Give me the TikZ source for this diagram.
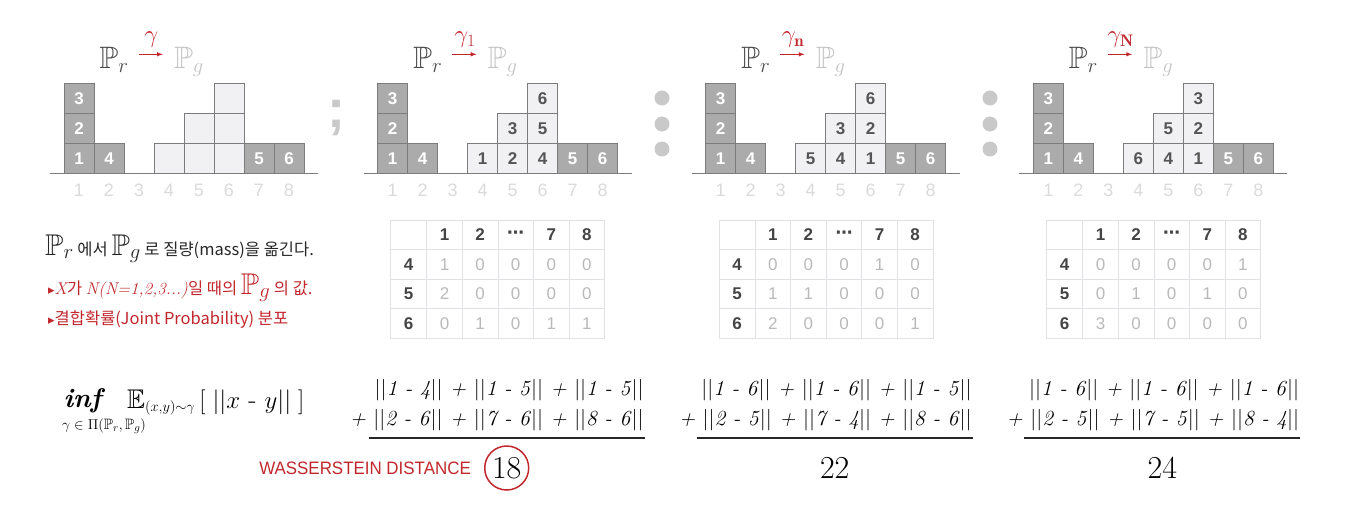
\documentclass[tikz,border=0pt]{standalone}
\usepackage{amsmath}
\usepackage{amssymb}
\usepackage{fontspec}
\setsansfont{Liberation Sans}
\newfontfamily\krfont{Noto Sans CJK KR}
\newfontfamily\symfont{DejaVu Sans}
\newfontfamily\narrowfont[FakeStretch=0.94]{Liberation Sans}
\newcommand\dist[2]{\textup{||}#1 - #2\textup{||}}
\definecolor{boxdark}{HTML}{ABABAB}
\definecolor{boxlight}{HTML}{F1F1F3}
\definecolor{boxedge}{HTML}{7C7C7C}
\definecolor{numdark}{HTML}{555555}
\definecolor{axisgray}{HTML}{DADADA}
\definecolor{pdark}{HTML}{4A4A4A}
\definecolor{plight}{HTML}{C4C4C4}
\definecolor{wred}{HTML}{C1272D}
\definecolor{tabedge}{HTML}{E2E2E6}
\definecolor{tabhead}{HTML}{444444}
\definecolor{tabval}{HTML}{B9B9B9}
\definecolor{dotgray}{HTML}{C9C9C9}

\begin{document}
\begin{tikzpicture}[x=1pt, y=-1pt, >=latex,
  darkbox/.style={draw=boxedge, fill=boxdark, line width=0.8pt, minimum size=30pt, inner sep=0pt, text=white, font=\sffamily\bfseries\fontsize{17}{17}\selectfont},
  lightbox/.style={darkbox, fill=boxlight, text=numdark},
  axislabel/.style={text=axisgray, font=\sffamily\fontsize{18}{18}\selectfont},
  probnode/.style={inner sep=0pt, anchor=base, font=\fontsize{31}{31}\selectfont},
  gammaarrow/.style={->, wred, line width=1pt, shorten <=10pt, shorten >=11pt},
  cell/.style={draw=tabedge, line width=0.8pt, minimum width=35.6pt, minimum height=29.6pt, inner sep=0pt, text=tabval, font=\sffamily\fontsize{17}{17}\selectfont},
  headcell/.style={cell, text=tabhead, font=\sffamily\bfseries\fontsize{17}{17}\selectfont},
  sumline/.style={anchor=base east, inner sep=0pt, font=\fontsize{21.5}{21.5}\selectfont\itshape},
  sumrule/.style={line width=1.2pt, black!85},
  resnum/.style={inner sep=0pt, font=\fontsize{32}{32}\selectfont},
  saytext/.style={anchor=base west, inner sep=0pt, font=\krfont\fontsize{16.5}{16.5}\selectfont},
  sepdot/.style={fill=dotgray}]
  \useasboundingbox (0,0) rectangle (1345,504);

  % Panels: boxes, axis, transport arrow
  \foreach \p/\x/\g/\la/\lb/\lc/\ld/\le/\lf in {a/64/{\gamma}/{}/{}/{}/{}/{}/{},
      b/377.7/{\gamma_1}/1/2/3/4/5/6,
      c/705.7/{\gamma_{\mathbf{n}}}/5/4/3/1/2/6,
      d/1033.3/{\gamma_{\mathbf{N}}}/6/4/5/1/2/3} {
    \begin{scope}[xshift=\x pt]
      \foreach \c/\k/\n in {1/1/1, 1/2/2, 1/3/3, 2/1/4, 7/1/5, 8/1/6}
        \node[darkbox] (\p d\n) at ({(\c-0.5)*30},{173.3-(\k-0.5)*30}) {\n};
      \node[lightbox] (\p l1) at (105,158.3) {\la};
      \node[lightbox] (\p l2) at (135,158.3) {\lb};
      \node[lightbox] (\p l3) at (135,128.3) {\lc};
      \node[lightbox] (\p l4) at (165,158.3) {\ld};
      \node[lightbox] (\p l5) at (165,128.3) {\le};
      \node[lightbox] (\p l6) at (165,98.3) {\lf};
      \draw[boxedge, line width=1.2pt] (-14,173.3) -- (254,173.3);
      \foreach \c in {1,...,8}
        \node[axislabel] (\p x\c) at ({(\c-0.5)*30},190) {\c};
      \node[probnode, text=pdark] (pr\p) at (50,68.3) {$\mathbb{P}_r$};
      \node[probnode, text=plight] (pg\p) at (125,68.3) {$\mathbb{P}_g$};
      \draw[gammaarrow] ([yshift=14pt]pr\p.base east) -- node[above=6pt, inner sep=0pt, font=\fontsize{24}{24}\selectfont] (gam\p) {$\g$} ([yshift=14pt]pg\p.base west);
    \end{scope}
  }

  % Separators
  \node[text=dotgray, font=\sffamily\bfseries\fontsize{54}{54}\selectfont] (semi) at (336,118) {;};
  \fill[sepdot] (662,98) circle (7.5);
  \fill[sepdot] (662,124) circle (7.5);
  \fill[sepdot] (662,149) circle (7.5);
  \fill[sepdot] (990,98) circle (7.5);
  \fill[sepdot] (990,124) circle (7.5);
  \fill[sepdot] (990,149) circle (7.5);

  % Joint tables
  \begin{scope}[xshift=390.7pt]
    \node[headcell, minimum width=36pt] (tbh0) at (18,234.8) {};
    \foreach \h [count=\j] in {1,2,{\symfont\bfseries ⋯},7,8}
      \node[headcell] (tbh\j) at ({36+(\j-0.5)*35.6},234.8) {\h};
    \foreach \r/\va/\vb/\vc/\vd/\ve [count=\i] in {4/1/0/0/0/0, 5/2/0/0/0/0, 6/0/1/0/1/1} {
      \node[headcell, minimum width=36pt] (tbr\i) at (18,{234.8+\i*29.6}) {\r};
      \node[cell] (tb\i a) at (53.8,{234.8+\i*29.6}) {\va};
      \node[cell] (tb\i b) at (89.4,{234.8+\i*29.6}) {\vb};
      \node[cell] (tb\i c) at (125,{234.8+\i*29.6}) {\vc};
      \node[cell] (tb\i d) at (160.6,{234.8+\i*29.6}) {\vd};
      \node[cell] (tb\i e) at (196.2,{234.8+\i*29.6}) {\ve};
    }
  \end{scope}
  \begin{scope}[xshift=719pt]
    \node[headcell, minimum width=36pt] (tch0) at (18,234.8) {};
    \foreach \h [count=\j] in {1,2,{\symfont\bfseries ⋯},7,8}
      \node[headcell] (tch\j) at ({36+(\j-0.5)*35.6},234.8) {\h};
    \foreach \r/\va/\vb/\vc/\vd/\ve [count=\i] in {4/0/0/0/1/0, 5/1/1/0/0/0, 6/2/0/0/0/1} {
      \node[headcell, minimum width=36pt] (tcr\i) at (18,{234.8+\i*29.6}) {\r};
      \node[cell] (tc\i a) at (53.8,{234.8+\i*29.6}) {\va};
      \node[cell] (tc\i b) at (89.4,{234.8+\i*29.6}) {\vb};
      \node[cell] (tc\i c) at (125,{234.8+\i*29.6}) {\vc};
      \node[cell] (tc\i d) at (160.6,{234.8+\i*29.6}) {\vd};
      \node[cell] (tc\i e) at (196.2,{234.8+\i*29.6}) {\ve};
    }
  \end{scope}
  \begin{scope}[xshift=1046.7pt]
    \node[headcell, minimum width=36pt] (tdh0) at (18,234.8) {};
    \foreach \h [count=\j] in {1,2,{\symfont\bfseries ⋯},7,8}
      \node[headcell] (tdh\j) at ({36+(\j-0.5)*35.6},234.8) {\h};
    \foreach \r/\va/\vb/\vc/\vd/\ve [count=\i] in {4/0/0/0/0/1, 5/0/1/0/1/0, 6/3/0/0/0/0} {
      \node[headcell, minimum width=36pt] (tdr\i) at (18,{234.8+\i*29.6}) {\r};
      \node[cell] (td\i a) at (53.8,{234.8+\i*29.6}) {\va};
      \node[cell] (td\i b) at (89.4,{234.8+\i*29.6}) {\vb};
      \node[cell] (td\i c) at (125,{234.8+\i*29.6}) {\vc};
      \node[cell] (td\i d) at (160.6,{234.8+\i*29.6}) {\vd};
      \node[cell] (td\i e) at (196.2,{234.8+\i*29.6}) {\ve};
    }
  \end{scope}

  % Explanation
  \node[saytext, text=black!85] (say1) at (45,255) {{\fontsize{30}{30}\selectfont$\mathbb{P}_r$} 에서 {\fontsize{30}{30}\selectfont$\mathbb{P}_g$} 로 질량(mass)을 옮긴다.};
  \node[saytext, text=wred] (say2) at (48,294) {{\symfont\fontsize{13}{13}\selectfont ▸}{\rmfamily\itshape\fontsize{17}{17}\selectfont X}가 {\rmfamily\itshape\fontsize{17}{17}\selectfont N(N=1,2,3...)}일 때의 {\fontsize{30}{30}\selectfont$\mathbb{P}_g$} 의 값.};
  \node[saytext, text=wred] (say3) at (48,324) {{\symfont\fontsize{13}{13}\selectfont ▸}결합확률(Joint Probability) 분포};

  % Distance formula
  \node[inner sep=0pt, anchor=base, font=\fontsize{27}{27}\selectfont\bfseries\itshape] (inf) at (82.5,407) {inf};
  \node[inner sep=0pt, font=\fontsize{15}{15}\selectfont] (infsub) at (104,426) {$\gamma\in\Pi(\mathbb{P}_r,\mathbb{P}_g)$};
  \node[inner sep=0pt, anchor=base west, font=\fontsize{27}{27}\selectfont] (expect) at (127,408) {$\mathbb{E}_{\scriptscriptstyle (x,y)\sim\gamma}\,[\;||x\text{ - }y||\;]$};

  % Transport costs
  \foreach \p/\x/\sa/\sb/\res in {b/377.7/{\dist{1}{4} + \dist{1}{5} + \dist{1}{5}}/{+ \dist{2}{6} + \dist{7}{6} + \dist{8}{6}}/18,
      c/705.7/{\dist{1}{6} + \dist{1}{6} + \dist{1}{5}}/{+ \dist{2}{5} + \dist{7}{4} + \dist{8}{6}}/22,
      d/1033.3/{\dist{1}{6} + \dist{1}{6} + \dist{1}{6}}/{+ \dist{2}{5} + \dist{7}{5} + \dist{8}{4}}/24} {
    \begin{scope}[xshift=\x pt]
      \node[sumline] (\p s1) at (266,395) {\sa};
      \node[sumline] (\p s2) at (266,425) {\sb};
      \draw[sumrule] (-9,438) -- (267,438);
      \node[resnum] (res\p) at (129,468) {\res};
    \end{scope}
  }
  \draw[wred, line width=1.5pt] (resb) circle (22);
  \node[anchor=east, inner sep=0pt, text=wred, font=\narrowfont\fontsize{18}{18}\selectfont] (wass) at (471,468) {WASSERSTEIN DISTANCE};
\end{tikzpicture}
\end{document}
